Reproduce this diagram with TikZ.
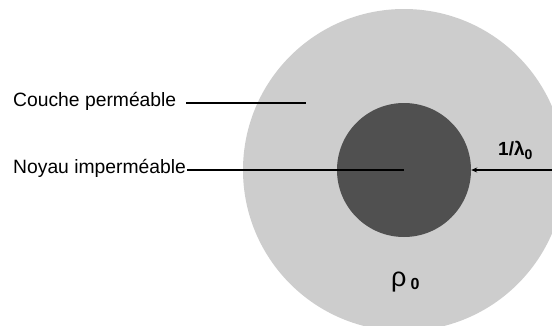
\documentclass[tikz,border=0pt]{standalone}
\usepackage{fontspec}
\setmainfont{Liberation Sans}
\usetikzlibrary{arrows.meta}
\definecolor{outergrey}{HTML}{CDCDCD}
\definecolor{coregrey}{HTML}{505050}
\tikzset{
  lbl/.style={font=\fontsize{19.3}{21}\selectfont, inner sep=0pt, anchor=west},
  leader/.style={draw=black, line width=1.4pt},
}
\begin{document}
\begin{tikzpicture}[x=1pt,y=-1pt]
\useasboundingbox (0,0) rectangle (552,325);
\clip (0,0) rectangle (552,325);
\fill[white] (0,0) rectangle (552,325);
\node[circle, fill=outergrey, minimum size=322pt, inner sep=0pt] (shell) at (404,170) {};
\node[circle, fill=coregrey, minimum size=134pt, inner sep=0pt] (core) at (404,170) {};
\node[lbl] (couche) at (13,101) {Couche perméable};
\node[lbl] (noyau) at (13,168) {Noyau imperméable};
\coordinate (cend) at (306,103);
\coordinate (cstart) at (186,103);
\coordinate (rim) at (552,170);
\draw[leader] (cstart) -- (cend);
\draw[leader] (noyau.east |- core.center) ++(1,0) -- (core.center);
\draw[leader, -{Stealth[length=6pt,width=5pt]}] (rim) -- (core.east);
\node[inner sep=0pt, anchor=west] (lam) at (498,150) {\fontsize{19}{21}\selectfont\bfseries 1/λ\raisebox{-4pt}{\fontsize{14}{15}\selectfont 0}};
\node[inner sep=0pt, anchor=west] (rho) at (391,282) {{\fontsize{27}{28}\selectfont ρ}\hspace{4pt}\raisebox{-3pt}{\fontsize{16}{17}\selectfont\bfseries 0}};
\end{tikzpicture}
\end{document}
